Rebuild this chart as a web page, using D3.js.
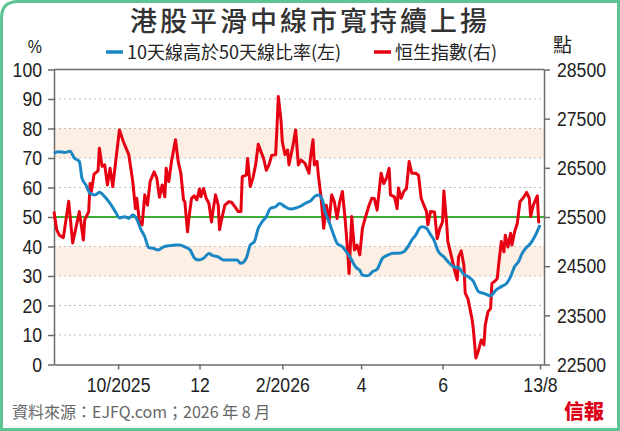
<!DOCTYPE html>
<html>
<head>
<meta charset="utf-8">
<script src="https://cdn.jsdelivr.net/npm/d3@7"></script>
<style>
  body { margin: 0; background: #fff; }
  svg text { font-family: "Liberation Sans", Arial, "Noto Sans CJK TC", sans-serif; }
  .axis path, .axis line { stroke: #6b6b6b; stroke-width: 1.5; }
  .axis text { font-size: 21px; fill: #222; }
  .grid { stroke: #bdbdbd; stroke-width: 1; stroke-dasharray: 2,3; }
</style>
</head>
<body>
<div id="chart"></div>
<script>
var width = 620,
    height = 431;

// 恒生指數 (right axis)
var hsiDates = ["2025-08-14","2025-08-16","2025-08-18","2025-08-21","2025-08-25","2025-08-28","2025-09-02","2025-09-05","2025-09-06","2025-09-09",
  "2025-09-10","2025-09-11","2025-09-13","2025-09-16","2025-09-17","2025-09-19","2025-09-21","2025-09-23","2025-09-25","2025-09-27",
  "2025-10-02","2025-10-05","2025-10-09","2025-10-12","2025-10-14","2025-10-15","2025-10-17","2025-10-19","2025-10-21","2025-10-23",
  "2025-10-25","2025-10-28","2025-10-30","2025-11-01","2025-11-03","2025-11-05","2025-11-06","2025-11-08","2025-11-10","2025-11-13",
  "2025-11-15","2025-11-17","2025-11-19","2025-11-20","2025-11-22","2025-11-23","2025-11-25","2025-11-27","2025-11-29","2025-12-01",
  "2025-12-02","2025-12-04","2025-12-06","2025-12-08","2025-12-10","2025-12-11","2025-12-13","2025-12-15","2025-12-16","2025-12-18",
  "2025-12-20","2025-12-23","2025-12-25","2025-12-28","2025-12-30","2026-01-01","2026-01-02","2026-01-05","2026-01-06","2026-01-08",
  "2026-01-10","2026-01-12","2026-01-14","2026-01-16","2026-01-18","2026-01-20","2026-01-22","2026-01-24","2026-01-27","2026-01-28",
  "2026-01-29","2026-01-31","2026-02-01","2026-02-03","2026-02-05","2026-02-06","2026-02-09","2026-02-11","2026-02-13","2026-02-15",
  "2026-02-18","2026-02-21","2026-02-22","2026-02-24","2026-02-25","2026-02-27","2026-02-28","2026-03-02","2026-03-04","2026-03-06",
  "2026-03-08","2026-03-10","2026-03-12","2026-03-14","2026-03-16","2026-03-18","2026-03-20","2026-03-22","2026-03-23","2026-03-25",
  "2026-03-27","2026-03-29","2026-03-31","2026-04-02","2026-04-04","2026-04-07","2026-04-09","2026-04-11","2026-04-13","2026-04-16",
  "2026-04-18","2026-04-20","2026-04-22","2026-04-23","2026-04-26","2026-04-28","2026-04-29","2026-05-01","2026-05-03","2026-05-05",
  "2026-05-07","2026-05-09","2026-05-12","2026-05-14","2026-05-16","2026-05-18","2026-05-20","2026-05-21","2026-05-23","2026-05-26",
  "2026-05-28","2026-05-30","2026-06-01","2026-06-02","2026-06-04","2026-06-05","2026-06-08","2026-06-10","2026-06-12","2026-06-13",
  "2026-06-15","2026-06-17","2026-06-18","2026-06-20","2026-06-23","2026-06-24","2026-06-26","2026-06-28","2026-06-30","2026-07-02",
  "2026-07-03","2026-07-05","2026-07-07","2026-07-08","2026-07-10","2026-07-12","2026-07-13","2026-07-15","2026-07-17","2026-07-18",
  "2026-07-20","2026-07-22","2026-07-23","2026-07-25","2026-07-27","2026-07-29","2026-08-01","2026-08-03","2026-08-05","2026-08-06",
  "2026-08-08","2026-08-11","2026-08-12","2026-08-13"];
var hsiValues = [25610,25240,25130,25080,25820,24970,25610,25030,25440,25610,
  26180,26020,26370,26440,26900,26530,26560,26150,26490,26120,
  27270,27030,26770,26220,25670,25880,25400,25340,25950,25740,
  26220,26420,26290,25900,26150,25910,26490,26220,26630,27070,
  26630,26390,25850,25810,25200,25470,25880,25930,25850,26070,
  25910,26080,25880,25780,25400,25610,25950,25740,25240,25510,
  25740,25810,25800,25690,25610,25610,26320,26350,26690,26120,
  26290,26560,26980,26830,26690,26450,26560,26750,26770,27310,
  27950,27470,27030,26770,26860,26560,26960,27270,26560,26660,
  26590,26390,26690,27070,26560,26630,26350,25910,25270,25740,
  25400,25950,25810,25470,25810,26020,25470,24790,24350,25510,
  24830,24930,24730,25270,25470,25740,25880,25870,25640,26390,
  26180,26290,26490,25950,25910,25670,26090,25880,26020,26080,
  26630,26390,26390,26350,25880,25740,25610,25340,25610,25600,
  25060,25270,25400,26030,25400,25000,24660,24420,24220,24690,
  24810,24520,23950,23840,23440,23240,22630,22790,23000,22900,
  23300,23570,23640,24150,24190,24250,24520,25000,24790,25130,
  24890,25170,24930,25200,25370,25810,25910,26000,25880,25510,
  25740,25930,25400,25390];

// 10天線高於50天線比率 (left axis, %)
var ratioDates = ["2025-08-14","2025-08-17","2025-08-22","2025-08-26","2025-08-29","2025-09-02","2025-09-04","2025-09-07","2025-09-10","2025-09-14",
  "2025-09-17","2025-09-21","2025-09-25","2025-09-29","2025-10-02","2025-10-06","2025-10-09","2025-10-12","2025-10-15","2025-10-18",
  "2025-10-21","2025-10-24","2025-10-27","2025-10-31","2025-11-04","2025-11-09","2025-11-13","2025-11-16","2025-11-20","2025-11-24",
  "2025-11-27","2025-11-30","2025-12-04","2025-12-08","2025-12-11","2025-12-15","2025-12-19","2025-12-24","2025-12-29","2026-01-01",
  "2026-01-05","2026-01-08","2026-01-11","2026-01-14","2026-01-17","2026-01-20","2026-01-23","2026-01-27","2026-01-30","2026-02-03",
  "2026-02-07","2026-02-12","2026-02-16","2026-02-18","2026-02-22","2026-02-26","2026-02-28","2026-03-03","2026-03-05","2026-03-08",
  "2026-03-11","2026-03-14","2026-03-18","2026-03-21","2026-03-24","2026-03-27","2026-03-29","2026-03-31","2026-04-02","2026-04-06",
  "2026-04-10","2026-04-13","2026-04-17","2026-04-21","2026-04-25","2026-04-29","2026-05-03","2026-05-06","2026-05-09","2026-05-12",
  "2026-05-15","2026-05-17","2026-05-20","2026-05-23","2026-05-25","2026-05-29","2026-06-02","2026-06-05","2026-06-09","2026-06-13",
  "2026-06-17","2026-06-20","2026-06-24","2026-06-28","2026-07-02","2026-07-07","2026-07-11","2026-07-15","2026-07-19","2026-07-22",
  "2026-07-25","2026-07-28","2026-07-30","2026-08-02","2026-08-06","2026-08-09","2026-08-12","2026-08-13"];
var ratioValues = [71.6,72.1,71.9,72.3,70.1,68.8,63.1,60.8,58.0,57.5,
  58.4,56.9,54.6,51.8,49.7,50.1,49.5,50.7,49.3,45.9,
  43.3,39.6,39.4,38.8,39.9,40.3,40.5,40.5,39.9,38.8,
  36.2,35.4,36.0,37.6,36.9,36.5,35.4,35.4,35.4,34.3,
  36.0,40.5,41.6,46.2,48.4,50.1,52.9,53.5,54.6,53.5,
  52.7,53.2,54.0,54.6,55.4,57.2,57.5,55.8,51.8,48.4,
  44.5,41.1,39.9,38.2,36.2,33.7,32.6,32.0,30.3,30.1,
  31.6,32.3,36.0,37.1,37.7,37.7,38.2,39.9,42.2,43.9,
  46.3,46.7,46.2,44.0,42.7,38.2,36.5,34.9,33.2,32.8,
  30.5,29.8,28.3,24.7,24.1,23.3,25.2,26.4,27.5,29.8,
  33.2,34.9,37.1,39.2,41.1,43.3,46.2,47.3];

var leftTicks = [0,10,20,30,40,50,60,70,80,90,100];
var rightTicks = [22500,23500,24500,25500,26500,27500,28500];
var xTickDates = ["2025-10-01","2025-12-01","2026-02-01","2026-04-01","2026-06-01","2026-08-13"];
var xTickLabels = ["10/2025","12","2/2026","4","6","13/8"];
var bands = [[30,40],[70,80]];
var midLine = 50;

var parse = d3.timeParse("%Y-%m-%d");

var margin = {left: 54, right: 76, top: 69.5, bottom: 66.5};
var squeeze = 0.84; // narrow the latin figures like the original typeface

var svg = d3.select("#chart")
    .append("svg")
    .attr("width", width)
    .attr("height", height);

var x = d3.scaleTime()
    .domain([parse("2025-08-14"), parse("2026-08-16")])
    .range([margin.left, width - margin.right]);

var yL = d3.scaleLinear().domain([0,100]).range([height - margin.bottom, margin.top]);
var yR = d3.scaleLinear().domain([22500,28500]).range([height - margin.bottom, margin.top]);

function narrow(sel) {
    sel.each(function () {
        var t = d3.select(this);
        var x0 = +(t.attr("x") || 0);
        t.attr("x", x0 / squeeze)
         .attr("transform", "scale(" + squeeze + ",1)");
    });
}

// frame
svg.append("path")
    .attr("d", "M1.5,429.5 L1.5,18 Q1.5,1.5 18,1.5 L618.5,1.5 L618.5,429.5 Z")
    .style("fill", "none")
    .style("stroke", "#5ec592")
    .style("stroke-width", 3);

// title
svg.append("text")
    .text("港股平滑中線市寬持續上揚")
    .attr("x", 310)
    .attr("y", 31)
    .style("text-anchor", "middle")
    .style("font-family", "'Noto Sans CJK TC', sans-serif")
    .style("font-size", "27px")
    .style("font-weight", 500)
    .style("letter-spacing", "3px")
    .style("fill", "#333");

// legend
var legend = [
  {label: "10天線高於50天線比率(左)", color: "#1a87c4", x: 106},
  {label: "恒生指數(右)", color: "#e60012", x: 374}
];
legend.forEach(function (d) {
    svg.append("line")
        .attr("x1", d.x).attr("x2", d.x + 17)
        .attr("y1", 52).attr("y2", 52)
        .style("stroke", d.color)
        .style("stroke-width", 3.5);
    svg.append("text")
        .text(d.label)
        .attr("x", d.x + 21)
        .attr("y", 58.5)
        .style("font-family", "'Noto Sans CJK TC', sans-serif")
        .style("font-size", "18px")
        .style("fill", "#222");
});

svg.append("text").text("%")
    .attr("x", 42).attr("y", 53)
    .style("text-anchor", "end")
    .style("font-size", "19px").style("fill", "#222")
    .call(narrow);

svg.append("text").text("點")
    .attr("x", 553).attr("y", 52)
    .style("font-family", "'Noto Sans CJK TC', sans-serif")
    .style("font-size", "19px").style("fill", "#222");

// bands
bands.forEach(function (b) {
    svg.append("rect")
        .attr("x", margin.left)
        .attr("y", yL(b[1]))
        .attr("width", x.range()[1] - margin.left)
        .attr("height", yL(b[0]) - yL(b[1]))
        .style("fill", "#fdefe3");
});

// grid
svg.selectAll(".grid")
    .data(leftTicks.filter(function (t) { return t > 0 && t < 100 && t !== midLine; }))
    .enter().append("line")
    .attr("class", "grid")
    .attr("x1", margin.left).attr("x2", x.range()[1])
    .attr("y1", function (t) { return yL(t); })
    .attr("y2", function (t) { return yL(t); });

svg.append("line")
    .attr("x1", margin.left).attr("x2", x.range()[1])
    .attr("y1", yL(midLine)).attr("y2", yL(midLine))
    .style("stroke", "#3cb034")
    .style("stroke-width", 2);

// top border
svg.append("line")
    .attr("x1", margin.left).attr("x2", x.range()[1])
    .attr("y1", margin.top).attr("y2", margin.top)
    .style("stroke", "#6b6b6b")
    .style("stroke-width", 1.5);

// axes
svg.append("g")
    .attr("class", "axis")
    .attr("transform", "translate(" + margin.left + ",0)")
    .call(d3.axisLeft(yL).tickValues(leftTicks).tickSize(6).tickSizeOuter(0).tickPadding(6));

svg.append("g")
    .attr("class", "axis")
    .attr("transform", "translate(" + x.range()[1] + ",0)")
    .call(d3.axisRight(yR).tickValues(rightTicks).tickFormat(d3.format("d"))
        .tickSize(6).tickSizeOuter(0).tickPadding(7));

svg.append("g")
    .attr("class", "axis")
    .attr("transform", "translate(0," + yL(0) + ")")
    .call(d3.axisBottom(x)
        .tickValues(xTickDates.map(parse))
        .tickFormat(function (d, i) { return xTickLabels[i]; })
        .tickSize(5).tickSizeOuter(0).tickPadding(8));

svg.selectAll(".axis .domain").style("fill", "none");
svg.selectAll(".axis text").call(narrow);

// lines
var hsi = hsiDates.map(function (d, i) { return {date: parse(d), value: hsiValues[i]}; });
var ratio = ratioDates.map(function (d, i) { return {date: parse(d), value: ratioValues[i]}; });

svg.append("path")
    .datum(hsi)
    .attr("d", d3.line()
        .x(function (d) { return x(d.date); })
        .y(function (d) { return yR(d.value); }))
    .style("fill", "none")
    .style("stroke", "#e60012")
    .style("stroke-width", 3)
    .style("stroke-linejoin", "round");

svg.append("path")
    .datum(ratio)
    .attr("d", d3.line()
        .curve(d3.curveMonotoneX)
        .x(function (d) { return x(d.date); })
        .y(function (d) { return yL(d.value); }))
    .style("fill", "none")
    .style("stroke", "#1a87c4")
    .style("stroke-width", 3)
    .style("stroke-linejoin", "round");

// footer
svg.append("text")
    .text("資料來源：EJFQ.com；2026 年 8 月")
    .attr("x", 12)
    .attr("y", 418)
    .style("font-family", "'Noto Sans CJK TC', sans-serif")
    .style("font-size", "16px")
    .style("fill", "#666");

svg.append("text")
    .text("信報")
    .attr("x", 604)
    .attr("y", 419)
    .style("text-anchor", "end")
    .style("font-family", "'Noto Sans CJK TC', serif")
    .style("font-size", "20px")
    .style("font-weight", 900)
    .style("fill", "#dc0018");
</script>
</body>
</html>
